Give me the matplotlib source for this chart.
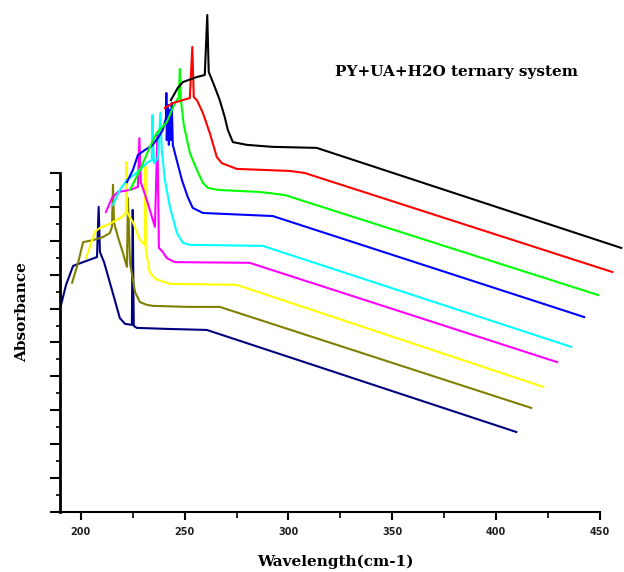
import matplotlib.pyplot as plt
from matplotlib.ticker import MultipleLocator

# 各スペクトルの値
navy_x = [190.5, 192.9, 196.3, 201.1, 207.8, 208.6, 209.2, 211.2, 215.0, 218.8, 221.3, 224.6,
          225.0, 225.5, 227.0, 241.9, 260.7, 409.7]
navy_y = [6.11, 6.70, 7.26, 7.37, 7.52, 9.00, 7.67, 7.37, 6.55, 5.72, 5.55, 5.52,
          8.91, 5.49, 5.43, 5.40, 5.37, 2.36]

olive_x = [195.8, 198.7, 201.1, 205.9, 210.7, 214.0, 215.0, 215.5, 216.0, 217.9, 220.3, 222.2,
           222.7, 223.7, 226.1, 228.5, 231.8, 234.7, 251.5, 266.9, 416.9]
olive_y = [6.76, 7.35, 7.96, 8.02, 8.11, 8.23, 8.41, 9.65, 8.53, 8.11, 7.64, 7.23,
           9.26, 7.35, 6.49, 6.19, 6.11, 6.08, 6.05, 6.05, 3.07]

yellow_x = [202.5, 206.8, 209.2, 214.0, 219.8, 221.7, 222.0, 222.2, 225.1, 228.5, 230.9, 231.1,
            231.3, 233.3, 236.2, 242.9, 275.1, 422.7]
yellow_y = [7.49, 8.26, 8.38, 8.50, 8.70, 8.82, 10.32, 8.85, 8.55, 8.02, 7.88, 10.21,
            7.73, 7.05, 6.87, 6.73, 6.70, 3.69]

magenta_x = [212.1, 215.0, 217.9, 223.7, 227.5, 228.2, 228.9, 231.8, 235.7, 236.9, 237.6, 239.5,
             241.4, 245.3, 281.3, 429.4]
magenta_y = [8.85, 9.26, 9.44, 9.50, 9.59, 11.03, 9.73, 9.20, 8.41, 11.21, 7.79, 7.67,
             7.49, 7.37, 7.35, 4.42]

cyan_x = [215.5, 218.8, 222.2, 226.1, 229.4, 232.3, 234.2, 234.5, 235.2, 237.1, 238.3, 239.0,
          240.5, 242.9, 246.3, 249.1, 252.5, 287.6, 436.2]
cyan_y = [9.06, 9.50, 9.79, 9.97, 10.15, 10.32, 10.38, 11.71, 10.29, 10.44, 11.77, 10.68,
          9.79, 9.00, 8.23, 7.94, 7.88, 7.85, 4.87]

blue_x = [222.2, 225.1, 227.5, 230.9, 234.2, 237.1, 239.5, 241.0, 241.2, 241.4, 241.9, 242.4,
          242.9, 243.4, 243.8, 244.3, 245.3, 248.7, 251.5, 253.9, 258.8, 292.4, 442.4]
blue_y = [9.73, 10.09, 10.53, 10.68, 10.80, 11.03, 11.27, 11.62, 12.36, 10.97, 12.01, 10.83,
          11.86, 10.97, 12.07, 10.83, 10.59, 9.79, 9.29, 8.97, 8.82, 8.73, 5.75]

green_x = [223.7, 228.5, 233.3, 236.6, 241.4, 245.3, 247.2, 247.7, 248.2, 249.6, 252.5, 255.9,
           258.8, 261.2, 266.0, 286.2, 298.2, 449.1]
green_y = [9.50, 10.09, 10.77, 11.18, 11.50, 12.06, 12.24, 13.07, 12.15, 11.42, 10.59, 10.09,
           9.71, 9.56, 9.50, 9.44, 9.35, 6.40]

red_x = [240.5, 244.3, 249.1, 252.5, 253.7, 254.4, 255.9, 258.8, 262.1, 265.5, 267.9, 275.1,
         300.6, 307.8, 455.9]
red_y = [11.92, 12.06, 12.15, 12.21, 13.72, 12.24, 12.15, 11.77, 11.18, 10.47, 10.29, 10.12,
         10.06, 10.00, 7.08]

black_x = [243.4, 246.7, 249.1, 255.9, 259.7, 260.9, 261.6, 264.5, 266.9, 269.3, 270.8, 273.2,
           279.9, 292.4, 313.6, 460.2]
black_y = [12.15, 12.51, 12.68, 12.83, 12.89, 14.66, 12.98, 12.54, 12.15, 11.65, 11.27, 10.91,
           10.83, 10.77, 10.74, 7.79]

series = [
    (navy_x, navy_y, "#000080"),
    (olive_x, olive_y, "#808000"),
    (yellow_x, yellow_y, "#FFFF00"),
    (magenta_x, magenta_y, "#FF00FF"),
    (cyan_x, cyan_y, "#00FFFF"),
    (blue_x, blue_y, "#0000FF"),
    (green_x, green_y, "#00FF00"),
    (red_x, red_y, "#FF0000"),
    (black_x, black_y, "#000000"),
]

x_ticks = [200, 250, 300, 350, 400, 450]

fig = plt.figure(figsize=(6.24, 5.72), dpi=100)
ax = fig.add_axes([0.0962, 0.1049, 0.8653, 0.5927])

for xs, ys, color in series:
    ax.plot(xs, ys, color=color, linewidth=1.5, clip_on=False)

ax.set_xlim(190, 450)
ax.set_ylim(0, 10)

ax.spines["top"].set_visible(False)
ax.spines["right"].set_visible(False)
ax.spines["left"].set_linewidth(2.0)
ax.spines["bottom"].set_linewidth(1.5)

ax.set_xticks(x_ticks)
ax.xaxis.set_minor_locator(MultipleLocator(25))
ax.yaxis.set_major_locator(MultipleLocator(1))
ax.yaxis.set_minor_locator(MultipleLocator(0.5))
ax.set_yticklabels([])

ax.tick_params(axis="x", which="major", direction="out", length=6, width=1.5,
               labelsize=7, labelcolor="#222222", pad=5)
ax.tick_params(axis="x", which="minor", direction="out", length=4, width=1.2)
ax.tick_params(axis="y", which="major", direction="out", length=7, width=1.5)
ax.tick_params(axis="y", which="minor", direction="out", length=3, width=1.2)
for label in ax.get_xticklabels():
    label.set_fontweight("bold")

fig.text(0.731, 0.874, "PY+UA+H2O ternary system", ha="center", va="center",
         fontsize=11, fontweight="bold", family="DejaVu Serif")
fig.text(0.537, 0.0175, "Wavelength(cm-1)", ha="center", va="center",
         fontsize=11, fontweight="bold", family="DejaVu Serif")
fig.text(0.035, 0.4545, "Absorbance", ha="center", va="center", rotation=90,
         fontsize=11, fontweight="bold", family="DejaVu Serif")

fig.savefig("out.png", dpi=100)
